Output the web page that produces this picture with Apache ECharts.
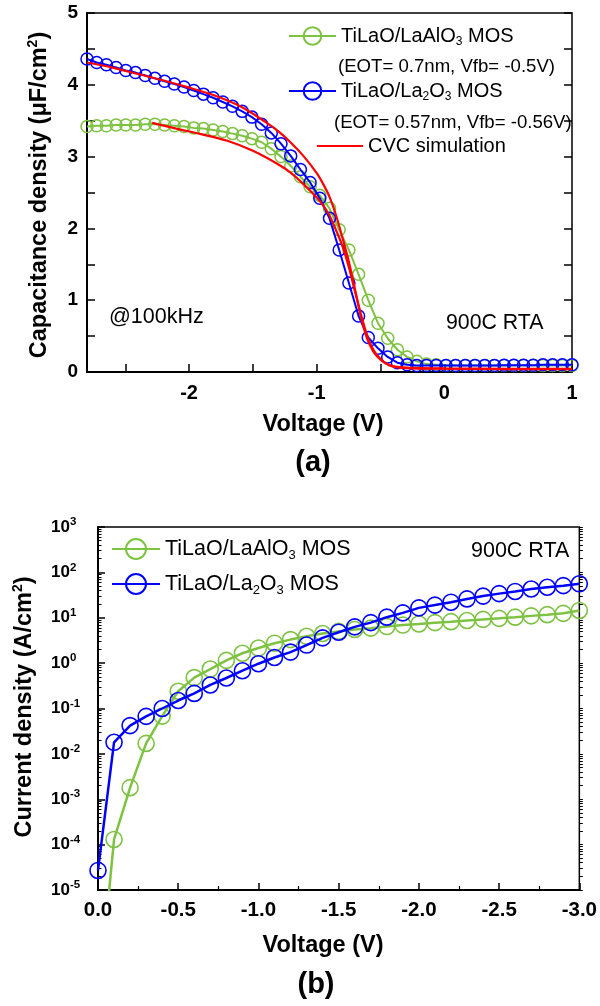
<!DOCTYPE html>
<html><head><meta charset="utf-8">
<script src="https://cdn.jsdelivr.net/npm/echarts@6/dist/echarts.min.js"></script>
<style>html,body{margin:0;padding:0;background:#fff}#c{width:600px;height:1006px}</style>
</head><body><div id="c"></div>
<script>
const FONT = '"Liberation Sans", Arial, Helvetica, sans-serif';

// ---- (a) C-V data ----
const cvVoltage = [-2.8, -2.724, -2.648, -2.572, -2.496, -2.42, -2.344, -2.268, -2.192, -2.116,
  -2.04, -1.964, -1.888, -1.812, -1.736, -1.66, -1.584, -1.508, -1.432, -1.356,
  -1.28, -1.204, -1.128, -1.052, -0.976, -0.9, -0.824, -0.748, -0.672, -0.596,
  -0.52, -0.444, -0.368, -0.292, -0.216, -0.14, -0.064, 0.012, 0.088, 0.164,
  0.24, 0.316, 0.392, 0.468, 0.544, 0.62, 0.696, 0.772, 0.848, 0.924, 1.0];
const cvLaAlO3 = [3.42, 3.43, 3.43, 3.44, 3.44, 3.44, 3.45, 3.45, 3.44, 3.43,
  3.42, 3.40, 3.39, 3.37, 3.35, 3.32, 3.29, 3.25, 3.20, 3.11,
  3.00, 2.87, 2.72, 2.58, 2.46, 2.28, 1.98, 1.70, 1.36, 1.00,
  0.68, 0.47, 0.31, 0.21, 0.15, 0.11, 0.10, 0.09, 0.09, 0.09,
  0.09, 0.09, 0.09, 0.09, 0.09, 0.09, 0.09, 0.09, 0.09, 0.09, 0.09];
const cvLa2O3 = [4.36, 4.31, 4.28, 4.24, 4.20, 4.17, 4.13, 4.09, 4.05, 4.01,
  3.97, 3.92, 3.87, 3.82, 3.76, 3.70, 3.63, 3.55, 3.45, 3.33,
  3.18, 3.01, 2.82, 2.64, 2.42, 2.14, 1.70, 1.24, 0.78, 0.48,
  0.33, 0.21, 0.13, 0.10, 0.09, 0.09, 0.09, 0.09, 0.09, 0.09,
  0.09, 0.09, 0.09, 0.095, 0.095, 0.095, 0.095, 0.10, 0.10, 0.10, 0.10];
const simVoltageLa2O3 = [-2.8, -2.6, -2.4, -2.2, -2.0, -1.8, -1.6, -1.4, -1.3, -1.2,
  -1.1, -1.0, -0.95, -0.9, -0.85, -0.8, -0.75, -0.7, -0.65, -0.6,
  -0.55, -0.5, -0.45, -0.4, -0.3, -0.2, 0, 0.5, 1.0];
const simLa2O3 = [4.31, 4.24, 4.15, 4.06, 3.96, 3.85, 3.70, 3.48, 3.35, 3.19,
  3.00, 2.77, 2.62, 2.44, 2.19, 1.88, 1.55, 1.15, 0.74, 0.44,
  0.27, 0.17, 0.11, 0.08, 0.06, 0.055, 0.05, 0.045, 0.045];
const simVoltageLaAlO3 = [-2.29, -2.1, -1.9, -1.7, -1.5, -1.3, -1.2, -1.1, -1.0, -0.95,
  -0.9, -0.85, -0.8, -0.75, -0.7, -0.65, -0.6, -0.55, -0.5, -0.45,
  -0.4, -0.3, 0, 0.5, 1.0];
const simLaAlO3 = [3.47, 3.39, 3.31, 3.22, 3.08, 2.89, 2.77, 2.61, 2.43, 2.32,
  2.18, 1.98, 1.76, 1.47, 1.12, 0.78, 0.48, 0.29, 0.18, 0.11,
  0.075, 0.055, 0.045, 0.04, 0.04];
const cvXLabels = [-2, -1, 0, 1];
const cvXTicks = [-2.5, -2, -1.5, -1, -0.5, 0, 0.5, 1];

// ---- (b) J-V data ----
const ivVoltage = [0, -0.1, -0.2, -0.3, -0.4, -0.5, -0.6, -0.7, -0.8, -0.9,
  -1.0, -1.1, -1.2, -1.3, -1.4, -1.5, -1.6, -1.7, -1.8, -1.9,
  -2.0, -2.1, -2.2, -2.3, -2.4, -2.5, -2.6, -2.7, -2.8, -2.9, -3.0];
const ivLaAlO3 = [2.7e-8, 1.3e-4, 1.8e-3, 0.017, 0.068, 0.24, 0.48, 0.74, 1.15, 1.65,
  2.15, 2.75, 3.3, 3.9, 4.5, 5.0, 5.5, 5.9, 6.4, 6.9,
  7.3, 7.8, 8.2, 8.7, 9.2, 9.7, 10.3, 11.0, 11.7, 12.5, 14.5];
const ivLa2O3 = [2.7e-5, 0.018, 0.042, 0.067, 0.100, 0.150, 0.215, 0.33, 0.47, 0.68,
  0.97, 1.33, 1.75, 2.5, 3.6, 4.8, 6.3, 7.8, 10.3, 12.8,
  16.5, 19, 22, 26, 30, 34, 38, 43, 47, 51, 56];
const ivDecades = [-5, -4, -3, -2, -1, 0, 1, 2, 3];
const ivMinorMultipliers = [2, 3, 4, 5, 6, 7, 8, 9];

const GREEN = '#7ec242', BLUE = '#0000ff', RED = '#ff0000';
const pairs = (xs, ys) => xs.map((x, i) => [x, ys[i]]);

// minor tick positions (log10 units) for the log axis overlay
const minorLog = [];
ivDecades.slice(0, -1).forEach(d => ivMinorMultipliers.forEach(m => minorLog.push(d + Math.log10(m))));
const allLog = ivDecades.concat(minorLog);

const richA = {
  n: {fontSize: 20, fontFamily: FONT, color: '#000', lineHeight: 24},
  s: {fontSize: 12, fontFamily: FONT, color: '#000', lineHeight: 10, verticalAlign: 'bottom'}
};
const richB = {
  n: {fontSize: 21.5, fontFamily: FONT, color: '#000', lineHeight: 26},
  s: {fontSize: 13, fontFamily: FONT, color: '#000', lineHeight: 10, verticalAlign: 'bottom'}
};
const legendText = {
  'LaAlO3_a': '{n|TiLaO/LaAlO}{s|3}{n| MOS}',
  'La2O3_a': '{n|TiLaO/La}{s|2}{n|O}{s|3}{n| MOS}',
  'CVC simulation': '{n|CVC simulation}',
  'LaAlO3_b': '{n|TiLaO/LaAlO}{s|3}{n| MOS}',
  'La2O3_b': '{n|TiLaO/La}{s|2}{n|O}{s|3}{n| MOS}'
};
function legendFor(name, left, top, w, h, rich) {
  return {
    data: [name], left: left, top: top, orient: 'horizontal', itemWidth: w, itemHeight: h,
    padding: 0, itemGap: 0, selectedMode: false,
    formatter: n => legendText[n],
    textStyle: {rich: rich, fontFamily: FONT, color: '#000'}
  };
}

const tickLabel = {color: '#000', fontFamily: FONT, fontWeight: 'bold'};
const blackLine = {color: '#000', width: 2};

const titleRich = {
  t: {fontSize: 23.5, fontWeight: 'bold', fontFamily: FONT, color: '#000', lineHeight: 28},
  p: {fontSize: 14, fontWeight: 'bold', fontFamily: FONT, color: '#000', lineHeight: 12, verticalAlign: 'top'}
};
function txt(x, y, text, size, bold, align, extra) {
  return Object.assign({
    type: 'text', x: x, y: y, silent: true,
    style: {text: text, fontSize: size, fontWeight: bold ? 'bold' : 'normal', fontFamily: FONT,
      fill: '#000', align: align || 'left', textAlign: align || 'left',
      verticalAlign: 'middle', textVerticalAlign: 'middle'}
  }, extra || {});
}

const option = {
  animation: false,
  backgroundColor: '#fff',
  grid: [
    {left: 87, top: 13, width: 485, height: 359, show: true, borderColor: '#000', borderWidth: 1.5, backgroundColor: 'transparent'},
    {left: 98, top: 527, width: 488, height: 363, show: true, borderColor: '#000', borderWidth: 1.5, backgroundColor: 'transparent'}
  ],
  legend: [
    legendFor('LaAlO3_a', 288, 26, 47, 22, richA),
    legendFor('La2O3_a', 288, 81, 47, 22, richA),
    legendFor('CVC simulation', 316, 136, 46, 22, richA),
    legendFor('LaAlO3_b', 111, 538, 48, 25, richB),
    legendFor('La2O3_b', 111, 573, 48, 25, richB)
  ],
  xAxis: [
    {gridIndex: 0, type: 'value', min: -2.8, max: 1,
      axisLine: {show: true, onZero: false, lineStyle: blackLine},
      axisTick: {show: true, inside: true, length: 8, customValues: cvXTicks, lineStyle: {color: '#000', width: 1.5}},
      axisLabel: Object.assign({customValues: cvXLabels, margin: 11, fontSize: 20}, tickLabel),
      splitLine: {show: false}},
    {gridIndex: 1, type: 'value', min: -3, max: 0, interval: 0.5, inverse: true,
      axisLine: {show: true, onZero: false, lineStyle: blackLine},
      axisTick: {show: true, inside: true, length: 7, lineStyle: {color: '#000', width: 1.5}},
      minorTick: {show: true, splitNumber: 2, length: 4, lineStyle: {color: '#000', width: 1.2}},
      axisLabel: Object.assign({margin: 10, fontSize: 20.5, formatter: v => v.toFixed(1)}, tickLabel),
      splitLine: {show: false}, minorSplitLine: {show: false}}
  ],
  yAxis: [
    {gridIndex: 0, type: 'value', min: 0, max: 5, interval: 1,
      axisLine: {show: true, onZero: false, lineStyle: blackLine},
      axisTick: {show: true, inside: true, length: 8, lineStyle: {color: '#000', width: 1.5}},
      minorTick: {show: true, splitNumber: 2, length: 8, lineStyle: {color: '#000', width: 1.5}},
      axisLabel: Object.assign({margin: 9, fontSize: 19}, tickLabel),
      splitLine: {show: false}, minorSplitLine: {show: false}},
    {gridIndex: 0, type: 'value', position: 'right', min: 0, max: 5, interval: 0.5,
      axisLine: {show: false, onZero: false},
      axisTick: {show: true, inside: true, length: 8, lineStyle: {color: '#000', width: 1.5}},
      axisLabel: {show: false}, splitLine: {show: false}},
    {gridIndex: 1, type: 'log', logBase: 10, min: 1e-5, max: 1e3,
      axisLine: {show: true, onZero: false, lineStyle: blackLine},
      axisTick: {show: true, inside: true, length: 7, lineStyle: {color: '#000', width: 1.5}},
      axisLabel: {margin: 47, align: 'left',
        formatter: v => '{b|10}{e|' + Math.round(Math.log10(v)) + '}',
        rich: {
          b: {fontSize: 17, fontWeight: 'bold', fontFamily: FONT, color: '#000', lineHeight: 22},
          e: {fontSize: 11.5, fontWeight: 'bold', fontFamily: FONT, color: '#000', lineHeight: 10, verticalAlign: 'top'}
        }},
      splitLine: {show: false}},
    {gridIndex: 1, type: 'value', position: 'left', min: -5, max: 3,
      axisLine: {show: false, onZero: false},
      axisTick: {show: true, inside: true, length: 3.5, customValues: minorLog, lineStyle: {color: '#000', width: 1}},
      axisLabel: {show: false}, splitLine: {show: false}},
    {gridIndex: 1, type: 'value', position: 'right', min: -5, max: 3,
      axisLine: {show: false, onZero: false},
      axisTick: {show: true, inside: false, length: 3.5, customValues: allLog, lineStyle: {color: '#000', width: 1}},
      axisLabel: {show: false}, splitLine: {show: false}}
  ],
  series: [
    {name: 'LaAlO3_a', type: 'line', xAxisIndex: 0, yAxisIndex: 0, data: pairs(cvVoltage, cvLaAlO3),
      symbol: 'circle', symbolSize: 12, showAllSymbol: true, z: 2,
      lineStyle: {color: GREEN, width: 2}, itemStyle: {color: 'rgba(0,0,0,0)', borderColor: GREEN, borderWidth: 1.5}},
    {name: 'La2O3_a', type: 'line', xAxisIndex: 0, yAxisIndex: 0, data: pairs(cvVoltage, cvLa2O3),
      symbol: 'circle', symbolSize: 12, showAllSymbol: true, z: 3,
      lineStyle: {color: BLUE, width: 2}, itemStyle: {color: 'rgba(0,0,0,0)', borderColor: BLUE, borderWidth: 1.5}},
    {name: 'CVC simulation', type: 'line', xAxisIndex: 0, yAxisIndex: 0, data: pairs(simVoltageLa2O3, simLa2O3),
      symbol: 'none', smooth: 0.3, z: 4,
      lineStyle: {color: RED, width: 2.2}, itemStyle: {color: 'rgba(0,0,0,0)', borderColor: 'rgba(0,0,0,0)'}},
    {name: 'CVC simulation', type: 'line', xAxisIndex: 0, yAxisIndex: 0, data: pairs(simVoltageLaAlO3, simLaAlO3),
      symbol: 'none', smooth: 0.3, z: 4,
      lineStyle: {color: RED, width: 2.2}, itemStyle: {color: 'rgba(0,0,0,0)', borderColor: 'rgba(0,0,0,0)'}},
    {name: 'LaAlO3_b', type: 'line', xAxisIndex: 1, yAxisIndex: 2, data: pairs(ivVoltage, ivLaAlO3),
      symbol: 'circle', symbolSize: 16, showAllSymbol: true, z: 2, clip: true,
      lineStyle: {color: GREEN, width: 2.5}, itemStyle: {color: 'rgba(0,0,0,0)', borderColor: GREEN, borderWidth: 1.6}},
    {name: 'La2O3_b', type: 'line', xAxisIndex: 1, yAxisIndex: 2, data: pairs(ivVoltage, ivLa2O3),
      symbol: 'circle', symbolSize: 16, showAllSymbol: true, z: 3, clip: true,
      lineStyle: {color: BLUE, width: 2.5}, itemStyle: {color: 'rgba(0,0,0,0)', borderColor: BLUE, borderWidth: 1.6}}
  ],
  graphic: [
    txt(338, 67, '(EOT= 0.7nm, Vfb= -0.5V)', 18.6, false),
    txt(334, 123, '(EOT= 0.57nm, Vfb= -0.56V)', 18.6, false),
    txt(109, 317, '@100kHz', 21.5, false),
    txt(446, 323, '900C RTA', 21.3, false),
    txt(323, 425, 'Voltage (V)', 23.5, true, 'center'),
    txt(313, 463, '(a)', 29, true, 'center'),
    txt(471, 551, '900C RTA', 21.5, false),
    txt(323, 946, 'Voltage (V)', 23.5, true, 'center'),
    txt(316, 985, '(b)', 29, true, 'center'),
    {type: 'text', x: 40, y: 195, rotation: Math.PI / 2, silent: true,
      style: {text: '{t|Capacitance density (μF/cm}{p|2}{t|)}', rich: titleRich,
        align: 'center', textAlign: 'center', verticalAlign: 'middle', textVerticalAlign: 'middle'}},
    {type: 'text', x: 25, y: 707, rotation: Math.PI / 2, silent: true,
      style: {text: '{t|Current density (A/cm}{p|2}{t|)}', rich: titleRich,
        align: 'center', textAlign: 'center', verticalAlign: 'middle', textVerticalAlign: 'middle'}}
  ]
};

const chart = echarts.init(document.getElementById('c'), null, {renderer: 'canvas', width: 600, height: 1006});
chart.setOption(option);
</script>
</body></html>
